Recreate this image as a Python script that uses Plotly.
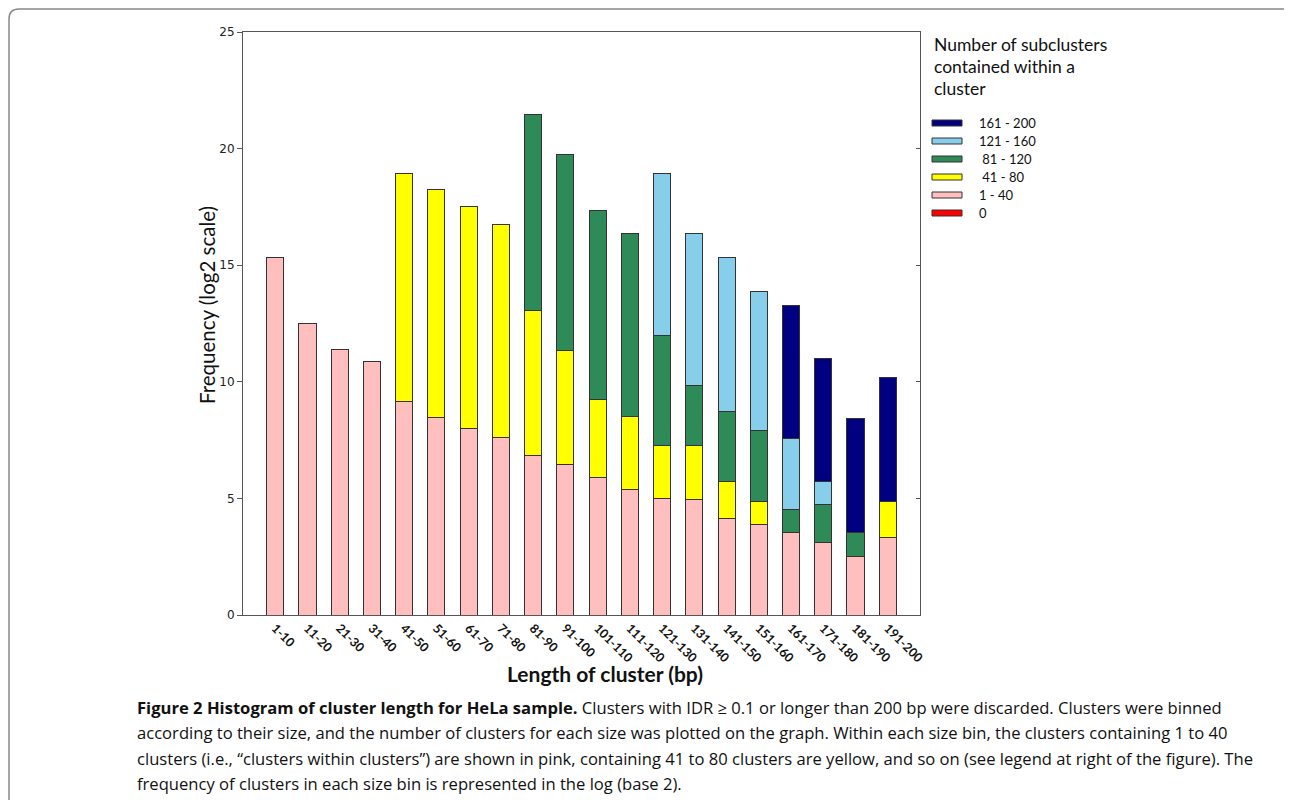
import plotly.graph_objects as go

# ---- data (log2 frequency, stacked segment heights) ----
bins = ["1-10", "11-20", "21-30", "31-40", "41-50", "51-60", "61-70", "71-80",
        "81-90", "91-100", "101-110", "111-120", "121-130", "131-140", "141-150",
        "151-160", "161-170", "171-180", "181-190", "191-200"]

seg_1_40 = [15.33, 12.52, 11.39, 10.87, 9.15, 8.49, 8.01, 7.63, 6.82, 6.47,
            5.91, 5.40, 4.98, 4.94, 4.13, 3.86, 3.53, 3.13, 2.53, 3.32]
seg_41_80 = [None, None, None, None, 9.80, 9.74, 9.49, 9.11, 6.23, 4.86,
             3.33, 3.12, 2.30, 2.33, 1.61, 1.00, None, None, None, 1.53]
seg_81_120 = [None, None, None, None, None, None, None, None, 8.43, 8.40,
              8.10, 7.82, 4.70, 2.59, 2.99, 3.04, 1.00, 1.62, 1.00, None]
seg_121_160 = [None, None, None, None, None, None, None, None, None, None,
               None, None, 6.95, 6.48, 6.58, 5.96, 3.04, 0.99, None, None]
seg_161_200 = [None, None, None, None, None, None, None, None, None, None,
               None, None, None, None, None, None, 5.70, 5.28, 4.90, 5.32]

series_names = ["1 - 40", "41 - 80", "81 - 120", "121 - 160", "161 - 200"]
series_colors = ["#FFBFBF", "#FFFF00", "#2E8B57", "#87CEEB", "#000080"]
series_values = [seg_1_40, seg_41_80, seg_81_120, seg_121_160, seg_161_200]

legend_labels = ["161 - 200", "121 - 160", " 81 - 120", " 41 - 80", "1 - 40", "0"]
legend_colors = ["#000080", "#87CEEB", "#2E8B57", "#FFFF00", "#FFBFBF", "#FF0000"]

y_ticks = [0, 5, 10, 15, 20, 25]

# ---- layout geometry (pixels, in page coordinates; page body has an 8px margin) ----
PAGE_W, PAGE_H, BODY = 1292, 808, 8
W, H = PAGE_W - 2 * BODY, PAGE_H - 2 * BODY
L, R, T, B = 243, 920, 32, 615


def px(x):
    return (x - L) / (R - L)


def py(y):
    return (B - y) / (B - T)


fig = go.Figure()
for name, color, vals in zip(series_names, series_colors, series_values):
    fig.add_trace(go.Bar(
        x=list(range(len(bins))), y=vals, name=name,
        marker=dict(color=color, line=dict(color="#333333", width=1)),
        showlegend=False,
    ))

fig.update_layout(
    width=W, height=H,
    margin=dict(l=L - BODY, r=PAGE_W - BODY - R, t=T - BODY, b=PAGE_H - BODY - B, autoexpand=False),
    paper_bgcolor="white", plot_bgcolor="white",
    barmode="stack", bargap=0.47,
    font=dict(family="Lato", color="#111111"),
    xaxis=dict(
        range=[-1, len(bins)], tickmode="array",
        tickvals=list(range(len(bins))), ticktext=bins,
        tickangle=45, ticks="", showgrid=False, zeroline=False,
        showline=True, linecolor="#555555", linewidth=1, mirror=True,
        tickfont=dict(family="Lato", size=12.5, color="#111111", weight="bold"),
    ),
    yaxis=dict(
        range=[0, 25], tickmode="array", tickvals=y_ticks,
        ticks="outside", ticklen=5, tickcolor="#555555",
        showgrid=False, zeroline=False,
        showline=True, linecolor="#555555", linewidth=1, mirror=True,
        tickfont=dict(family="DejaVu Sans", size=12, color="#222222"),
    ),
    yaxis2=dict(
        range=[0, 25], tickmode="array", tickvals=y_ticks, overlaying="y",
        side="right", ticks="inside", ticklen=4, tickcolor="#555555",
        showticklabels=False, showgrid=False, zeroline=False, showline=False,
    ),
)

# dummy trace to activate the right-side axis ticks
fig.add_trace(go.Scatter(x=[None], y=[None], yaxis="y2", showlegend=False, hoverinfo="skip"))

ann = []
# axis titles
ann.append(dict(text="Frequency (log2 scale)", x=px(207), y=py(305), xref="paper", yref="paper",
                textangle=-90, showarrow=False, font=dict(size=20.5, family="Lato", color="#111111"),
                xanchor="center", yanchor="middle"))
ann.append(dict(text="<b>Length of cluster (bp)</b>", x=px(605), y=py(673), xref="paper", yref="paper",
                showarrow=False, font=dict(size=21, family="Lato", color="#111111"),
                xanchor="center", yanchor="middle"))

# legend (drawn manually)
legend_title = ["Number of subclusters", "contained within a", "cluster"]
for i, line in enumerate(legend_title):
    ann.append(dict(text=line, x=px(932), y=py(44 + 22 * i), xref="paper", yref="paper",
                    showarrow=False, xanchor="left", yanchor="middle",
                    font=dict(size=17.5, family="Lato", color="#111111")))

shapes = []
for i, (lab, col) in enumerate(zip(legend_labels, legend_colors)):
    yc = 123 + 18 * i
    shapes.append(dict(type="rect", xref="paper", yref="paper",
                       x0=px(932), x1=px(962), y0=py(yc + 3), y1=py(yc - 3),
                       fillcolor=col, line=dict(color="#333333", width=1)))
    ann.append(dict(text=lab.replace(" ", "&nbsp;") if lab.startswith(" ") else lab,
                    x=px(977), y=py(yc), xref="paper", yref="paper",
                    showarrow=False, xanchor="left", yanchor="middle",
                    font=dict(size=13, family="Lato", color="#111111")))

# caption
caption = [
    "<b>Figure 2 Histogram of cluster length for HeLa sample.</b> Clusters with IDR \u2265 0.1 or longer than 200 bp were discarded. Clusters were binned",
    "according to their size, and the number of clusters for each size was plotted on the graph. Within each size bin, the clusters containing 1 to 40",
    "clusters (i.e., \u201cclusters within clusters\u201d) are shown in pink, containing 41 to 80 clusters are yellow, and so on (see legend at right of the figure). The",
    "frequency of clusters in each size bin is represented in the log (base 2).",
]
for i, line in enumerate(caption):
    ann.append(dict(text=line, x=px(135), y=py(707 + 25.5 * i), xref="paper", yref="paper",
                    showarrow=False, xanchor="left", yanchor="middle",
                    font=dict(size=16.6, family="Open Sans", color="#111111")))

# outer figure frame (top & left edges with rounded corner)
shapes.append(dict(type="path", xref="paper", yref="paper",
                   path=f"M {px(9)},{py(812)} L {px(9)},{py(19)} Q {px(9)},{py(9)} {px(19)},{py(9)} L {px(1296)},{py(9)}",
                   line=dict(color="#888888", width=1.5)))

fig.update_layout(annotations=ann, shapes=shapes)
fig.write_html("out.html")
